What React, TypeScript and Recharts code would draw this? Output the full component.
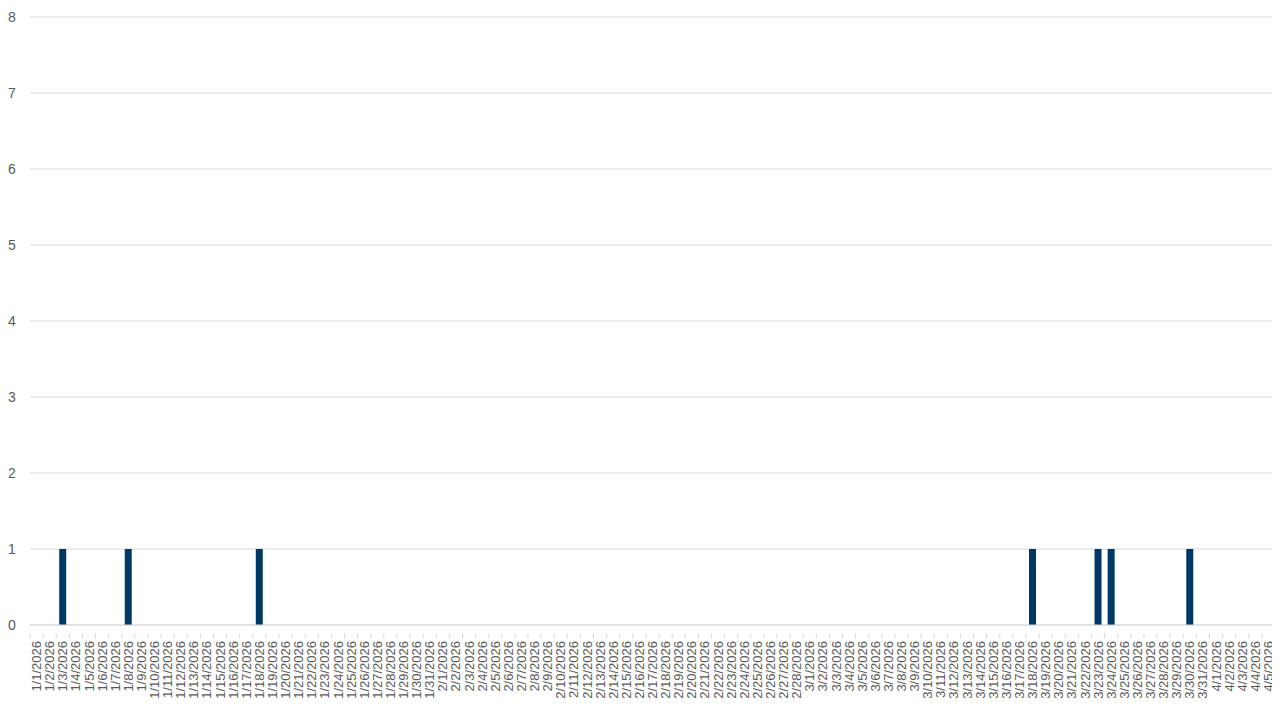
import { Bar, BarChart, CartesianGrid, XAxis, YAxis } from 'recharts';

// day counts per month shown on the axis, 2026
const months = [1, 2, 3, 4];
const monthDays = [31, 28, 31, 5];

// one value per day, Jan 1 .. Apr 5
const janCounts = [
  0, 0, 1, 0, 0, 0, 0, 1, 0, 0, 0, 0, 0, 0, 0, 0, 0, 1, 0, 0, 0, 0, 0, 0, 0,
  0, 0, 0, 0, 0, 0,
];
const febCounts = [
  0, 0, 0, 0, 0, 0, 0, 0, 0, 0, 0, 0, 0, 0, 0, 0, 0, 0, 0, 0, 0, 0, 0, 0, 0,
  0, 0, 0,
];
const marCounts = [
  0, 0, 0, 0, 0, 0, 0, 0, 0, 0, 0, 0, 0, 0, 0, 0, 0, 1, 0, 0, 0, 0, 1, 1, 0,
  0, 0, 0, 0, 1, 0,
];
const aprCounts = [0, 0, 0, 0, 0];

const yTicks = [0, 1, 2, 3, 4, 5, 6, 7, 8];

const W = 1280;
const H = 720;
const LEFT = 30;
const RIGHT = 5;
const TOP = 17;
const X_AXIS_H = 95;
const GREY = '#595959';
const GRID = '#d9d9d9';
const FONT = '"Liberation Sans", Arial, sans-serif';

const counts = [...janCounts, ...febCounts, ...marCounts, ...aprCounts];
const labels: string[] = [];
months.forEach((m, i) => {
  for (let d = 1; d <= monthDays[i]; d++) labels.push(`${m}/${d}/2026`);
});
const data = labels.map((date, i) => ({ date, count: counts[i] }));

const step = (W - LEFT - RIGHT) / data.length;

function DateTick(props: any) {
  const { x, y, payload, index } = props;
  const last = index === data.length - 1;
  return (
    <g transform={`translate(${x},${y})`}>
      <line x1={-step / 2} y1={0} x2={-step / 2} y2={5} stroke={GRID} />
      {last && <line x1={step / 2} y1={0} x2={step / 2} y2={5} stroke={GRID} />}
      <text
        transform="rotate(-90)"
        x={-8}
        y={0}
        dy="0.35em"
        textAnchor="end"
        fill={GREY}
        fontSize={13}
        fontFamily={FONT}
      >
        {payload.value}
      </text>
    </g>
  );
}

function CountTick(props: any) {
  const { y, payload } = props;
  return (
    <text
      x={12}
      y={y}
      dy="0.35em"
      textAnchor="middle"
      fill={GREY}
      fontSize={14}
      fontFamily={FONT}
    >
      {payload.value}
    </text>
  );
}

export default function App() {
  return (
    <div style={{ margin: '-8px 0 0 -8px', width: W, height: H, background: '#fff' }}>
      <BarChart
        width={W}
        height={H}
        data={data}
        margin={{ top: TOP, right: RIGHT, left: 0, bottom: 0 }}
      >
        <CartesianGrid vertical={false} stroke={GRID} />
        <XAxis
          dataKey="date"
          interval={0}
          height={X_AXIS_H}
          axisLine={{ stroke: GRID }}
          tickLine={false}
          tick={<DateTick />}
        />
        <YAxis
          width={LEFT}
          domain={[0, 8]}
          ticks={yTicks}
          axisLine={false}
          tickLine={false}
          tick={<CountTick />}
        />
        <Bar dataKey="count" fill="#003865" barSize={7} isAnimationActive={false} />
      </BarChart>
    </div>
  );
}
